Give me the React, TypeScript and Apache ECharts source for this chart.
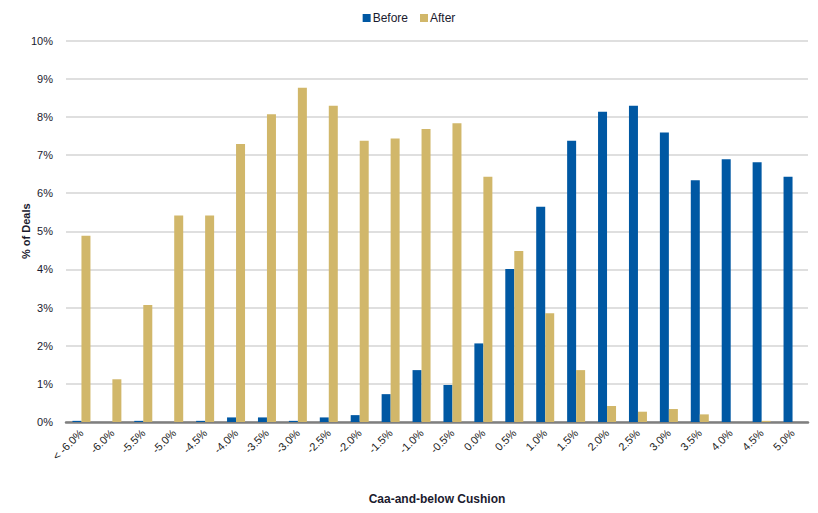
import React, { useEffect, useRef } from "react";
import * as echarts from "echarts";

const categories = [
  "< -6.0%", "-6.0%", "-5.5%", "-5.0%", "-4.5%", "-4.0%", "-3.5%", "-3.0%",
  "-2.5%", "-2.0%", "-1.5%", "-1.0%", "-0.5%", "0.0%", "0.5%", "1.0%",
  "1.5%", "2.0%", "2.5%", "3.0%", "3.5%", "4.0%", "4.5%", "5.0%",
];

const beforeValues = [
  0.03, 0, 0.03, 0, 0.03, 0.12, 0.12, 0.03, 0.12, 0.18, 0.73, 1.36,
  0.97, 2.06, 4.01, 5.64, 7.37, 8.13, 8.29, 7.59, 6.34, 6.89, 6.81, 6.43,
];

const afterValues = [
  4.88, 1.12, 3.07, 5.41, 5.41, 7.29, 8.07, 8.76, 8.29, 7.37, 7.43, 7.68,
  7.83, 6.43, 4.48, 2.85, 1.36, 0.42, 0.27, 0.34, 0.2, 0, 0.03, 0,
];

const FONT = "'Liberation Sans Narrow', 'Liberation Sans', Arial, sans-serif";

export default function App() {
  const ref = useRef<HTMLDivElement>(null);
  useEffect(() => {
    if (!ref.current) return;
    const chart = echarts.init(ref.current, null, { renderer: "svg" });
    chart.setOption({
      animation: false,
      backgroundColor: "#ffffff",
      textStyle: { fontFamily: FONT },
      legend: {
        top: 7,
        left: "center",
        itemWidth: 8,
        itemHeight: 8,
        itemGap: 12,
        icon: "rect",
        textStyle: { fontFamily: FONT, fontSize: 12, color: "#1a1a2e", padding: [0, 0, 0, -3] },
        data: ["Before", "After"],
      },
      grid: { left: 66, right: 10, top: 40.5, bottom: 91, containLabel: false },
      xAxis: {
        type: "category",
        data: categories,
        name: "Caa-and-below Cushion",
        nameLocation: "middle",
        nameGap: 71,
        nameMoveOverlap: false,
        nameTextStyle: { fontFamily: FONT, fontSize: 12, fontWeight: "bold", color: "#1a1a2e" },
        axisLine: { lineStyle: { color: "#7f7f7f", width: 2.5 } },
        axisTick: { show: false },
        axisLabel: {
          rotate: 45,
          interval: 0,
          margin: 9,
          fontSize: 11,
          color: "#222",
          fontFamily: FONT,
        },
      },
      yAxis: {
        type: "value",
        min: 0,
        max: 10,
        interval: 1,
        name: "% of Deals",
        nameLocation: "middle",
        nameGap: 35,
        nameMoveOverlap: false,
        nameRotate: 90,
        nameTextStyle: { fontFamily: FONT, fontSize: 11, fontWeight: "bold", color: "#1a1a2e" },
        axisLine: { show: false },
        axisTick: { show: false },
        axisLabel: {
          formatter: "{value}%",
          fontSize: 11,
          margin: 13,
          color: "#1a1a2e",
          fontFamily: FONT,
        },
        splitLine: { lineStyle: { color: "#d4d4d4", width: 1.5 } },
      },
      series: [
        {
          name: "Before",
          type: "bar",
          data: beforeValues,
          barWidth: 9,
          barGap: "0%",
          itemStyle: { color: "#0058a3" },
        },
        {
          name: "After",
          type: "bar",
          data: afterValues,
          barWidth: 9,
          barGap: "0%",
          itemStyle: { color: "#d1b76a" },
        },
      ],
    });
    return () => chart.dispose();
  }, []);
  return <div ref={ref} style={{ width: 818, height: 513, position: "absolute", left: 0, top: 0 }} />;
}
